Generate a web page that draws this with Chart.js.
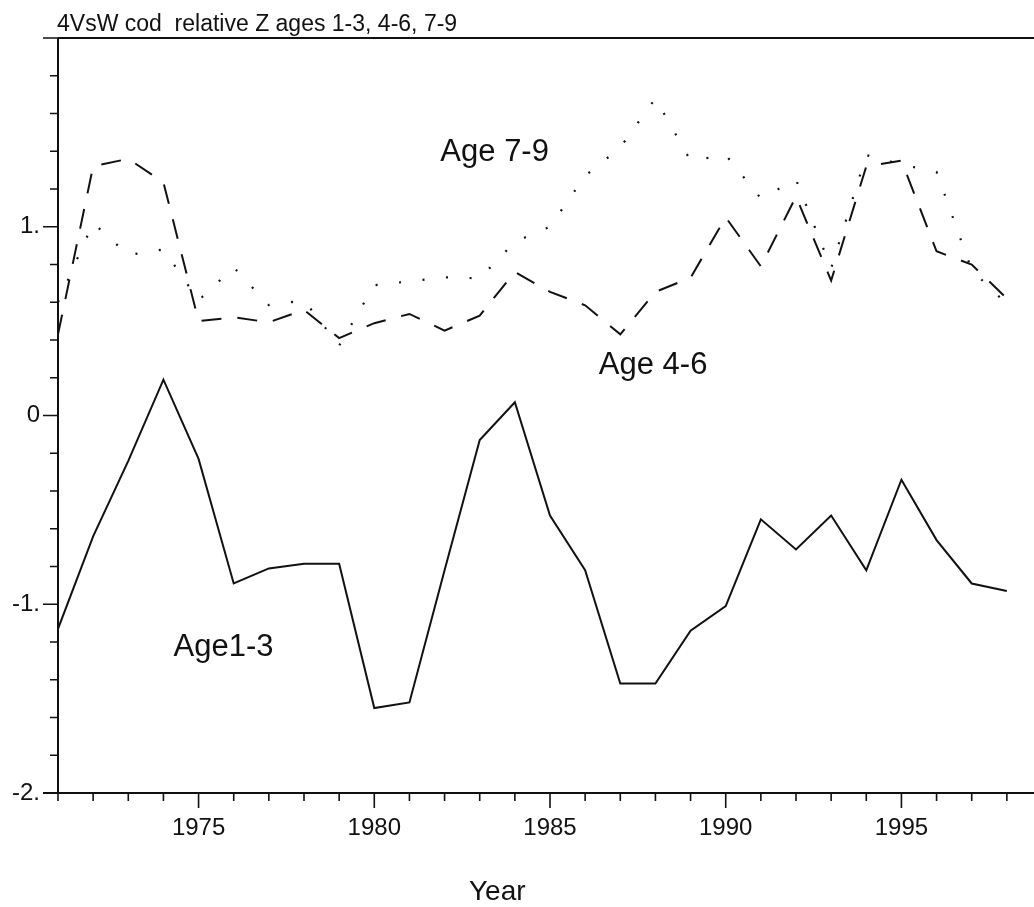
<!DOCTYPE html>
<html>
<head>
<meta charset="utf-8">
<script src="https://cdn.jsdelivr.net/npm/chart.js@4.4.1/dist/chart.umd.min.js"></script>
<style>
html,body{margin:0;padding:0;background:#fff;overflow:hidden;width:1034px;height:907px}
#wrap{position:relative;width:1042px;height:907px}
</style>
</head>
<body>
<div id="wrap"><canvas id="c" width="1042" height="907"></canvas></div>
<script>
// ---- data ----
const years = [1971,1972,1973,1974,1975,1976,1977,1978,1979,1980,1981,1982,1983,1984,1985,1986,1987,1988,1989,1990,1991,1992,1993,1994,1995,1996,1997,1998];
const age13 = [-1.13,-0.64,-0.24,0.19,-0.23,-0.89,-0.81,-0.785,-0.785,-1.55,-1.52,-0.82,-0.13,0.07,-0.53,-0.82,-1.42,-1.42,-1.14,-1.01,-0.55,-0.71,-0.53,-0.82,-0.34,-0.66,-0.89,-0.93];
const age46 = [0.43,1.32,1.36,1.235,0.50,0.52,0.494,0.559,0.41,0.489,0.538,0.45,0.529,0.76,0.655,0.584,0.43,0.655,0.73,1.05,0.79,1.16,0.715,1.32,1.35,0.87,0.80,0.62];
const age79 = [0.60,1.02,0.85,0.88,0.61,0.785,0.585,0.61,0.37,0.69,0.711,0.732,0.727,0.92,1.0,1.27,1.42,1.68,1.35,1.38,1.15,1.25,0.78,1.38,1.33,1.29,0.77,0.59];
const seriesNames = ['Age1-3','Age 4-6','Age 7-9'];
const xTickValues = [1975,1980,1985,1990,1995];
const xTickLabels = ['1975','1980','1985','1990','1995'];
const yTickValues = [-2,-1,0,1];
const yTickLabels = ['-2.','-1.','0','1.'];
const titleText = '4VsW cod  relative Z ages 1-3, 4-6, 7-9';
const xAxisTitle = 'Year';

// ---- presentation ----
const FONT = '"Liberation Sans", Arial, Helvetica, sans-serif';
const X_MIN = 1971, X_MAX = 1999, Y_MIN = -2, Y_MAX = 2;
const notes = [
  {text: 'Age 7-9', x: 1981.88, y: 1.346},
  {text: 'Age 4-6', x: 1986.39, y: 0.222},
  {text: 'Age1-3',  x: 1974.29, y: -1.276}
];

const framePlugin = {
  id: 'frame',
  afterDraw(chart) {
    const {ctx, chartArea: a, scales: {x, y}} = chart;
    ctx.save();
    ctx.strokeStyle = '#111';
    ctx.lineWidth = 2;
    ctx.beginPath();
    ctx.moveTo(a.left, a.top); ctx.lineTo(a.right, a.top);
    ctx.moveTo(a.left, a.top); ctx.lineTo(a.left, a.bottom);
    ctx.moveTo(a.left - 15, a.bottom); ctx.lineTo(a.right, a.bottom);
    ctx.stroke();
    ctx.lineWidth = 1.6;
    ctx.beginPath();
    for (let yr = X_MIN; yr <= X_MAX; yr++) {
      const px = x.getPixelForValue(yr);
      const len = (yr % 5 === 0) ? 15 : 8;
      ctx.moveTo(px, a.bottom); ctx.lineTo(px, a.bottom + len);
    }
    for (let i = 0; i <= 20; i++) {
      const v = Y_MIN + i * 0.2;
      const py = y.getPixelForValue(v);
      const len = (i % 5 === 0) ? 15 : 8;
      ctx.moveTo(a.left, py); ctx.lineTo(a.left - len, py);
    }
    ctx.stroke();
    ctx.fillStyle = '#111';
    ctx.textAlign = 'left';
    ctx.textBaseline = 'alphabetic';
    ctx.font = '31px ' + FONT;
    for (const n of notes) ctx.fillText(n.text, x.getPixelForValue(n.x), y.getPixelForValue(n.y));
    ctx.font = '23px ' + FONT;
    ctx.fillText(titleText, a.left - 1, 31);
    ctx.font = '28px ' + FONT;
    ctx.textAlign = 'center';
    ctx.fillText(xAxisTitle, x.getPixelForValue(1983.5), 900);
    ctx.restore();
  }
};

const mk = (vals) => years.map((yr, i) => ({x: yr, y: vals[i]}));

new Chart(document.getElementById('c'), {
  type: 'line',
  data: {
    datasets: [
      {label: seriesNames[0], data: mk(age13), borderColor: '#111', borderWidth: 2, pointRadius: 0, tension: 0, fill: false},
      {label: seriesNames[1], data: mk(age46), borderColor: '#111', borderWidth: 2, borderDash: [20, 16], pointRadius: 0, tension: 0, fill: false},
      {label: seriesNames[2], data: mk(age79), borderColor: '#111', borderWidth: 2.2, borderDash: [2, 21.6], pointRadius: 0, tension: 0, fill: false}
    ]
  },
  options: {
    responsive: false,
    animation: false,
    devicePixelRatio: 1,
    layout: {padding: {top: 38, right: 0, bottom: 0, left: 0}},
    plugins: {legend: {display: false}, tooltip: {enabled: false}, title: {display: false}},
    scales: {
      x: {
        type: 'linear', min: X_MIN, max: X_MAX,
        grid: {display: false, drawTicks: false},
        border: {display: false},
        afterBuildTicks: s => { s.ticks = xTickValues.map(v => ({value: v})); },
        afterFit: s => { s.height = 114; },
        ticks: {
          autoSkip: false, maxRotation: 0, padding: 21, color: '#111',
          font: {size: 24, family: FONT},
          callback: (v, i) => xTickLabels[i]
        }
      },
      y: {
        type: 'linear', min: Y_MIN, max: Y_MAX,
        grid: {display: false, drawTicks: false},
        border: {display: false},
        afterBuildTicks: s => { s.ticks = yTickValues.map(v => ({value: v})); },
        afterFit: s => { s.width = 58; },
        ticks: {
          padding: 18, color: '#111',
          font: {size: 24, family: FONT},
          callback: (v, i) => yTickLabels[i]
        }
      }
    }
  },
  plugins: [framePlugin]
});
</script>
</body>
</html>
